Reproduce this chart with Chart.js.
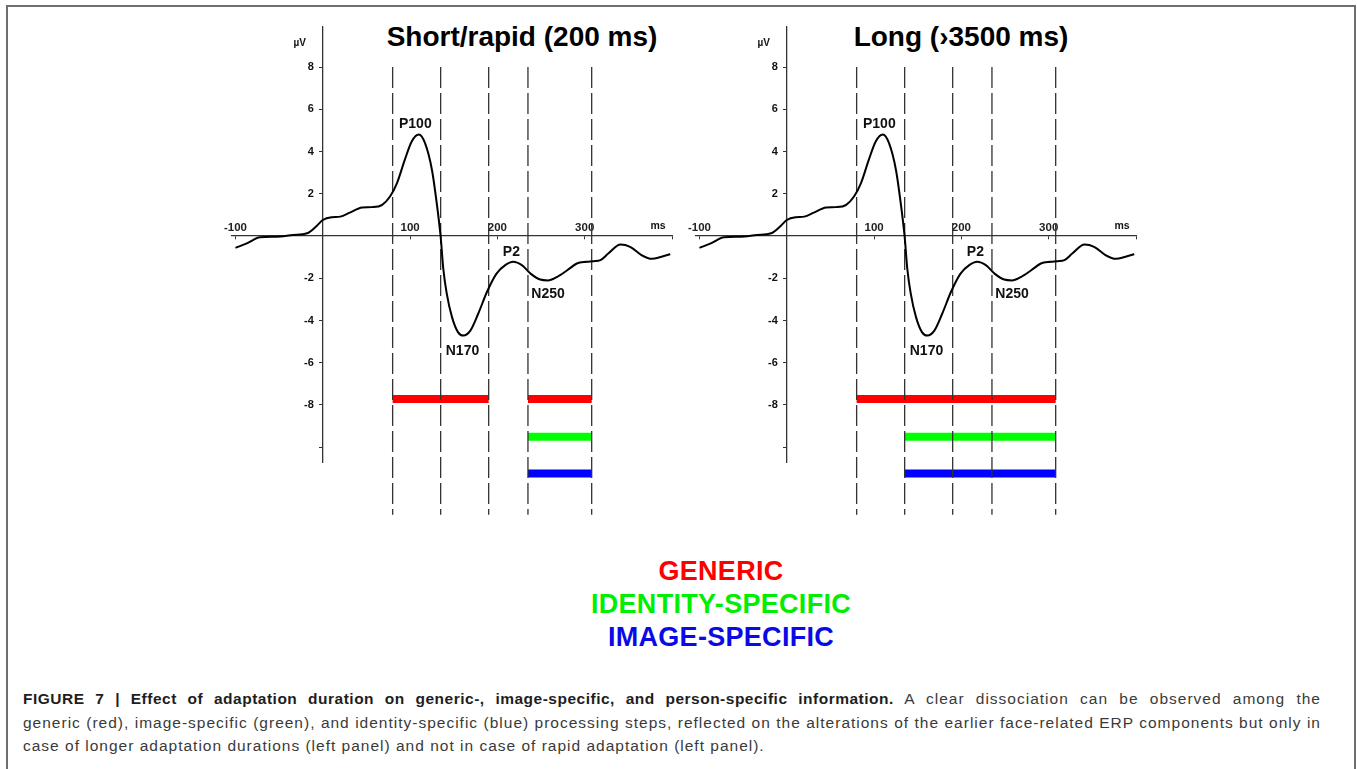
<!DOCTYPE html>
<html>
<head>
<meta charset="utf-8">
<script src="https://cdn.jsdelivr.net/npm/chart.js@4.4.0/dist/chart.umd.min.js"></script>
<style>
  body { margin: 0; background: #fff; width: 1357px; height: 769px; overflow: hidden; position: relative; font-family: "Liberation Sans", Arial, sans-serif; }
  .frame { position: absolute; left: 6px; top: 5px; width: 1350px; height: 820px; box-sizing: border-box; border: 2px solid #6e6e6e; }
  .panel { position: absolute; top: 15px; width: 480px; height: 520px; }
  .title { position: absolute; top: 23px; width: 400px; text-align: center; font-weight: bold; font-size: 28px; line-height: 28px; color: #000; }
  .key { position: absolute; left: 421px; width: 600px; text-align: center; font-weight: bold; font-size: 27px; line-height: 33px; letter-spacing: 0.3px; }
  .caption { position: absolute; left: 23px; top: 687px; width: 1298px; font-size: 15.5px; line-height: 23.5px; color: #3a3a3a; letter-spacing: 1px; white-space: nowrap; }
  .caption .full { display: block; text-align: justify; text-align-last: justify; }
  .caption b { color: #1e1e1e; letter-spacing: 0.5px; }
</style>
</head>
<body>
<div class="frame"></div>

<div class="title" style="left:322px">Short/rapid (200 ms)</div>
<div class="title" style="left:761px">Long (›3500 ms)</div>

<div class="panel" style="left:212px"><canvas id="short"></canvas></div>
<div class="panel" style="left:676px"><canvas id="long"></canvas></div>

<div class="key" style="top:555px; color:#ff0000">GENERIC</div>
<div class="key" style="top:588px; color:#00ee00">IDENTITY-SPECIFIC</div>
<div class="key" style="top:621px; color:#0a0ae6">IMAGE-SPECIFIC</div>

<div class="caption"><span class="full"><b>FIGURE 7 | Effect of adaptation duration on generic-, image-specific, and person-specific information.</b> A clear dissociation can be observed among the</span><span class="full">generic (red), image-specific (green), and identity-specific (blue) processing steps, reflected on the alterations of the earlier face-related ERP components but only in</span>case of longer adaptation durations (left panel) and not in case of rapid adaptation (left panel).</div>

<script>
// grand-average ERP waveform (same trace in both panels)
const timeMs = [-100, -87, -72, -53, -34, -18, -7, 0, 10, 20, 31, 45, 56, 68, 77, 85, 94, 102, 110, 117, 125, 131, 135, 138, 142, 148, 155, 161, 169, 178, 188, 199, 209, 218, 228, 238, 249, 258, 268, 280, 291, 302, 310, 318, 327, 341, 352, 365, 377, 388, 398];
const erpUv = [-0.56, -0.35, -0.06, -0.03, 0.05, 0.13, 0.48, 0.76, 0.89, 0.92, 1.11, 1.35, 1.37, 1.48, 1.87, 2.51, 3.62, 4.49, 4.81, 4.41, 3.14, 1.40, -0.03, -1.54, -2.73, -3.84, -4.56, -4.71, -4.48, -3.68, -2.65, -1.78, -1.38, -1.22, -1.38, -1.78, -2.06, -2.10, -1.94, -1.62, -1.30, -1.22, -1.19, -1.14, -0.83, -0.40, -0.51, -0.90, -1.08, -0.98, -0.86];

const xTicks = [-100, 100, 200, 300, 400];
const yTicks = [-10, -8, -6, -4, -2, 2, 4, 6, 8];

// analysis windows (dashed lines)
const windowEdges = [80, 135, 190, 235, 308];
const windowTop = 8;
const windowBottom = -13.2;

// component labels
const componentNames = ['P100', 'N170', 'P2', 'N250'];
const componentMs = [106, 160, 216, 258];
const componentUv = [5.3, -5.43, -0.75, -2.73];

// effect bars: level in µV, spans in ms
const genericLevel = -7.72;
const identityLevel = -9.5;
const imageLevel = -11.25;
const shortGeneric = [[80, 190], [235, 308]];
const shortIdentity = [[235, 308]];
const shortImage = [[235, 308]];
const longGeneric = [[80, 308]];
const longIdentity = [[135, 308]];
const longImage = [[135, 308]];

const genericColor = '#ff0000';
const identityColor = '#00ff00';
const imageColor = '#0000ff';

const FONT = '"Liberation Sans", Arial, sans-serif';

const labelPlugin = {
	id: 'erpLabels',
	afterDatasetsDraw( chart ) {
		const { ctx, scales: { x, y } } = chart;
		const axisX = x.getPixelForValue( 0 );
		ctx.save();
		ctx.fillStyle = '#111';
		ctx.textBaseline = 'middle';

		// y tick labels sit left of the crossing axis
		ctx.textAlign = 'right';
		ctx.font = `bold 11px ${ FONT }`;
		y.ticks.forEach( ( t ) => {
			ctx.fillText( t.label, axisX - 9, y.getPixelForValue( t.value ) );
		} );

		ctx.textAlign = 'center';
		ctx.font = `bold 14px ${ FONT }`;
		componentNames.forEach( ( name, i ) => {
			ctx.fillText( name, x.getPixelForValue( componentMs[ i ] ), y.getPixelForValue( componentUv[ i ] ) );
		} );
		ctx.font = `bold 10px ${ FONT }`;
		ctx.fillText( 'µV', axisX - 23, y.getPixelForValue( 9.15 ) );
		ctx.font = `bold 10.5px ${ FONT }`;
		ctx.fillText( 'ms', x.right - 14, y.getPixelForValue( 0 ) - 10 );
		ctx.restore();
	},
};

function barSets( spans, level, color ) {
	return spans.map( ( s ) => ( {
		data: [ { x: s[ 0 ], y: level }, { x: s[ 1 ], y: level } ],
		borderColor: color,
		borderWidth: 8,
		borderCapStyle: 'butt',
		pointRadius: 0,
		showLine: true,
		clip: false,
		order: 3,
	} ) );
}

function makePanel( id, generic, identity, image ) {
	const datasets = [
		{
			data: timeMs.map( ( t, i ) => ( { x: t, y: erpUv[ i ] } ) ),
			borderColor: '#000',
			borderWidth: 2,
			pointRadius: 0,
			showLine: true,
			cubicInterpolationMode: 'monotone',
			clip: false,
			order: 0,
		},
	];
	windowEdges.forEach( ( t ) => {
		datasets.push( {
			data: [ { x: t, y: windowTop }, { x: t, y: windowBottom } ],
			borderColor: '#333',
			borderWidth: 1.3,
			borderDash: [ 21, 5 ],
			pointRadius: 0,
			showLine: true,
			clip: false,
			order: 1,
		} );
	} );
	datasets.push( ...barSets( generic, genericLevel, genericColor ) );
	datasets.push( ...barSets( identity, identityLevel, identityColor ) );
	datasets.push( ...barSets( image, imageLevel, imageColor ) );

	return new Chart( document.getElementById( id ), {
		type: 'scatter',
		data: { datasets },
		plugins: [ labelPlugin ],
		options: {
			responsive: true,
			maintainAspectRatio: false,
			animation: false,
			events: [],
			layout: { padding: { left: 20, right: 20, top: 12, bottom: 73 } },
			plugins: { legend: { display: false }, tooltip: { enabled: false } },
			scales: {
				x: {
					type: 'linear',
					min: -104,
					max: 400,
					position: { y: 0 },
					afterBuildTicks: ( scale ) => { scale.ticks = xTicks.map( ( v ) => ( { value: v } ) ); },
					grid: { drawOnChartArea: false, tickLength: 3, color: '#333', lineWidth: 1 },
					border: { color: '#333', width: 1.3 },
					ticks: {
						autoSkip: false,
						maxRotation: 0,
						padding: -18,
						color: '#222',
						font: { family: FONT, size: 11.5, weight: 'bold' },
						callback: ( v ) => ( v === 400 ? '' : String( v ) ),
					},
				},
				y: {
					type: 'linear',
					min: -10.7,
					max: 9.9,
					position: { x: 0 },
					afterBuildTicks: ( scale ) => { scale.ticks = yTicks.map( ( v ) => ( { value: v } ) ); },
					grid: { drawOnChartArea: false, tickLength: 3, color: '#333', lineWidth: 1 },
					border: { color: '#333', width: 1.3 },
					ticks: {
						display: false,
						autoSkip: false,
						callback: ( v ) => ( v === -10 ? '' : String( v ) ),
					},
				},
			},
		},
	} );
}

makePanel( 'short', shortGeneric, shortIdentity, shortImage );
makePanel( 'long', longGeneric, longIdentity, longImage );
</script>
</body>
</html>
